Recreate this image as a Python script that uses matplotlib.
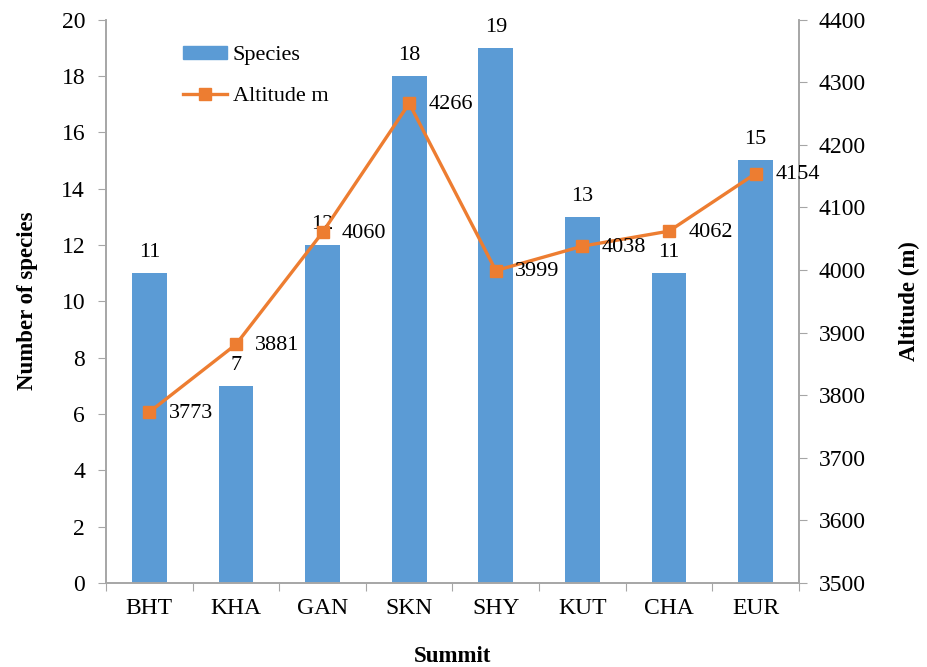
import matplotlib
matplotlib.use("Agg")
import matplotlib.pyplot as plt
import numpy as np
from matplotlib.lines import Line2D
from matplotlib.patches import Patch

plt.rcParams["font.family"] = ["Liberation Serif", "DejaVu Serif"]

summits = ["BHT", "KHA", "GAN", "SKN", "SHY", "KUT", "CHA", "EUR"]
species = [11, 7, 12, 18, 19, 13, 11, 15]
altitude = [3773, 3881, 4060, 4266, 3999, 4038, 4062, 4154]

bar_color = "#5B9BD5"
line_color = "#ED7D31"
spine_color = "#A6A6A6"

fig = plt.figure(figsize=(9.28, 6.67), dpi=100)
ax = fig.add_axes([106 / 928, 1 - 583 / 667, (799 - 106) / 928, (583 - 19.5) / 667])
ax2 = ax.twinx()

x = np.arange(len(summits))
ax.bar(x, species, width=0.40, color=bar_color, zorder=2)
ax.set_xlim(-0.5, len(summits) - 0.5)
ax.set_ylim(0, 20)
ax.set_yticks(np.arange(0, 21, 2))

for xi, v in zip(x, species):
    ax.annotate(str(v), (xi, v), xytext=(0, 8), textcoords="offset points",
                ha="center", va="bottom", fontsize=16)

ax2.plot(x, altitude, color=line_color, lw=2.4, marker="s", markersize=9, zorder=3)
ax2.set_ylim(3500, 4400)
ax2.set_yticks(np.arange(3500, 4401, 100))
for xi, v in zip(x, altitude):
    ax2.annotate(str(v), (xi, v), xytext=(14, -1), textcoords="offset points",
                 ha="left", va="center", fontsize=16)

# category ticks sit between the bars; labels at bar centres
ax.set_xticks(np.arange(-0.5, len(summits), 1.0))
ax.set_xticklabels([])
ax.set_xticks(x, minor=True)
ax.set_xticklabels(summits, minor=True, fontsize=17)
ax.tick_params(axis="x", which="minor", length=0, pad=11)
ax.tick_params(axis="x", which="major", length=6, color=spine_color)
ax.tick_params(axis="y", length=6, color=spine_color, labelsize=17, pad=9)
ax2.tick_params(axis="y", length=6, color=spine_color, labelsize=17, pad=8)

for a in (ax, ax2):
    a.spines["top"].set_visible(False)
    for s in ("left", "right", "bottom"):
        a.spines[s].set_color(spine_color)
        a.spines[s].set_linewidth(1.2)

ax.set_ylabel("Number of species", fontsize=16.5, fontweight="bold")
ax2.set_ylabel("Altitude (m)", fontsize=16.5, fontweight="bold")
ax.set_xlabel("Summit", fontsize=16.5, fontweight="bold")
ax.yaxis.set_label_coords(-0.098, 0.5)
ax2.yaxis.set_label_coords(1.144, 0.5)
ax.xaxis.set_label_coords(0.5, -0.111)

handles = [Patch(color=bar_color),
           Line2D([], [], color=line_color, lw=2.4, marker="s", markersize=9)]
ax.legend(handles, ["Species", "Altitude m"], loc="upper left",
          bbox_to_anchor=(0.111, 0.953), frameon=False, fontsize=16,
          borderpad=0, borderaxespad=0, handleheight=0.5,
          handlelength=2.0, handletextpad=0.25, labelspacing=0.98)

fig.savefig("out.png", dpi=100)
